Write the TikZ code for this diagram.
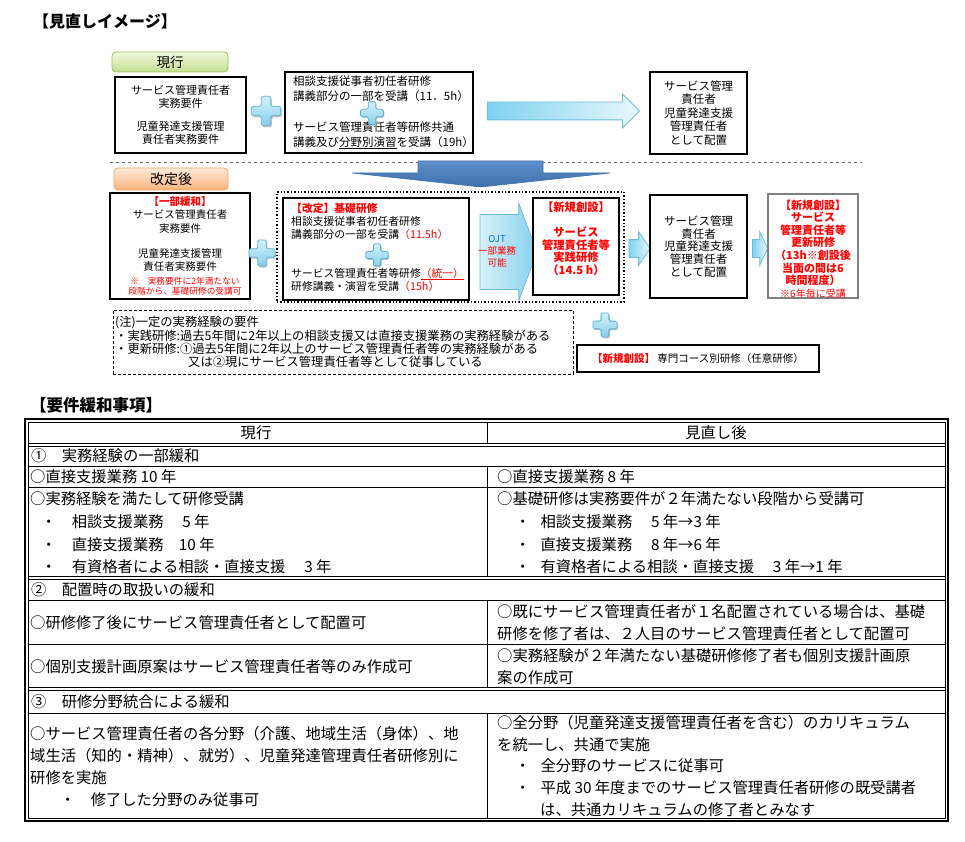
\documentclass[tikz,border=0pt]{standalone}
\usepackage{fontspec}
\setmainfont{Noto Sans CJK JP}
\usetikzlibrary{shapes.arrows,positioning,calc}

\definecolor{jred}{HTML}{FF0000}
\definecolor{ojtblue}{HTML}{0070C0}
\definecolor{plustop}{HTML}{D4F2FB}
\definecolor{plusbot}{HTML}{86CFE9}
\definecolor{plusedge}{HTML}{5AAFCF}
\definecolor{greentop}{HTML}{F2F9E1}
\definecolor{greenbot}{HTML}{C2DF8E}
\definecolor{greenedge}{HTML}{9BBB59}
\definecolor{orangetop}{HTML}{FEEBDD}
\definecolor{orangebot}{HTML}{F9B37A}
\definecolor{orangeedge}{HTML}{F0A060}
\definecolor{arrowdark}{HTML}{7ED2EF}
\definecolor{arrowlight}{HTML}{E8F8FD}
\definecolor{arrowedge}{HTML}{6CBFDB}
\definecolor{ojtlight}{HTML}{D6F1FA}
\definecolor{ojtdark}{HTML}{86D0EB}
\definecolor{downtop}{HTML}{5D8FCB}
\definecolor{downbot}{HTML}{3F70AC}

\newcommand\sz[2]{\fontsize{#1pt}{#2pt}\selectfont}
\newcommand\rd[1]{\textcolor{jred}{#1}}

\tikzset{
  box/.style={draw, line width=1.3, fill=white, inner sep=0pt, align=center},
  headbox/.style={draw, rounded corners=4pt, line width=0.8, inner sep=0pt, font=\sz{13.5}{16}},
  txt/.style={inner sep=0pt, align=center},
  ltxt/.style={inner sep=0pt, align=left, anchor=west},
  cell/.style={inner sep=0pt, align=left, anchor=west, font=\sz{15.3}{22}},
  blockarrow/.style={single arrow, draw=arrowedge, line width=0.8, inner sep=0pt,
    left color=arrowdark, right color=arrowlight},
  rule/.style={line width=0.8},
  plusmark/.pic={
    \fill[black!22, shift={(1.2,1.6)}, rounded corners=1.5pt]
      (-4.5,-14) -- (4.5,-14) -- (4.5,-4.5) -- (14,-4.5) -- (14,4.5) -- (4.5,4.5)
      -- (4.5,14) -- (-4.5,14) -- (-4.5,4.5) -- (-14,4.5) -- (-14,-4.5) -- (-4.5,-4.5) -- cycle;
    \draw[plusedge, line width=0.8, top color=plustop, bottom color=plusbot, rounded corners=1.5pt]
      (-4.5,-14) -- (4.5,-14) -- (4.5,-4.5) -- (14,-4.5) -- (14,4.5) -- (4.5,4.5)
      -- (4.5,14) -- (-4.5,14) -- (-4.5,4.5) -- (-14,4.5) -- (-14,-4.5) -- (-4.5,-4.5) -- cycle;
  }
}

\begin{document}
\begin{tikzpicture}[x=1pt, y=-1pt]
\useasboundingbox (0,0) rectangle (965,842);

% title
\node[ltxt, font=\bfseries\sz{16}{18}] (title) at (33,21) {【見直しイメージ】};

% current scheme
\node[headbox, draw=greenedge, top color=greentop, bottom color=greenbot,
  minimum width=116, minimum height=20] (oldhead) at (170,62) {現行};
\node[box, minimum width=131, minimum height=76, font=\sz{11}{13}] (reqold) at (180.5,115)
  {サービス管理責任者\\実務要件\\[10pt]児童発達支援管理\\責任者実務要件};
\pic[scale=1.05] at (266,111) {plusmark};
\node[box, minimum width=188, minimum height=81] (trainold) at (379,112.5) {};
\node[ltxt, font=\sz{11.5}{14.5}] (trainoldtxt) at (293,112.5)
  {相談支援従事者初任者研修\\講義部分の一部を受講（11．5h）\\[17pt]サービス管理責任者等研修共通\\講義及び\underline{分野別演習}を受講（19h）};
\pic[scale=0.82] at (372,113) {plusmark};
\node[blockarrow, minimum height=152, inner ysep=8.5, single arrow head extend=8] (toplaceold) at (559,111) {};
\node[box, line width=1.8, minimum width=97, minimum height=82, font=\sz{11.5}{13.5}] (placeold) at (698.5,113)
  {サービス管理\\責任者\\児童発達支援\\管理責任者\\として配置};

% divider
\draw[black!60, dashed, line width=0.9] (110,162.5) -- (862,162.5);
\draw[downbot, line width=0.6, top color=downtop, bottom color=downbot]
  (418,161) -- (543,161) -- (543,173) -- (610,173) -- (481,187) -- (352,173) -- (418,173) -- cycle;

% revised scheme
\node[headbox, draw=orangeedge, top color=orangetop, bottom color=orangebot,
  minimum width=114, minimum height=22, font=\sz{14}{16}] (newhead) at (171,179) {改定後};
\node[box, minimum width=140, minimum height=106] (reqnew) at (180,246) {};
\node[txt, font=\sz{10.5}{13.3}] (reqnewtxt) at (180,234)
  {\rd{\bfseries 【一部緩和】}\\サービス管理責任者\\実務要件\\[12pt]児童発達支援管理\\責任者実務要件};
\node[txt, font=\sz{8.7}{9.8}, text=jred] (reqnewnote) at (185,286)
  {※　実務要件に2年満たない\\段階から、基礎研修の受講可};
\pic[scale=0.93] at (262,253) {plusmark};

\node[draw, dotted, line width=1.4, minimum width=347, minimum height=110, inner sep=0pt] (basicframe) at (450.5,247) {};
\node[box, minimum width=186, minimum height=102] (basic) at (376,249) {};
\node[ltxt, font=\sz{10.8}{13}] (basictxt) at (291,247)
  {\rd{\bfseries 【改定】基礎研修}\\相談支援従事者初任者研修\\講義部分の一部を受講\rd{（11.5h）}\\[26pt]サービス管理責任者等研修\rd{\underline{（統一）}}\\研修講義・演習を受講\rd{（15h）}};
\pic[scale=0.8] at (377,255) {plusmark};

\node[blockarrow, left color=ojtlight, right color=ojtdark, minimum height=57, inner ysep=37,
  single arrow head extend=11.5, single arrow tip angle=139] (ojt) at (501.5,252) {};
\node[txt, font=\sz{9.5}{12}] (ojttxt) at (497,251) {\textcolor{ojtblue}{OJT}\\\rd{一部業務}\\\rd{可能}};

\node[box, line width=1.1, minimum width=86, minimum height=97] (practice) at (576,246.5) {};
\node[txt, font=\bfseries\sz{11.3}{12.5}, text=jred] (practicetxt) at (576,238.7)
  {【新規創設】\\[13pt]サービス\\管理責任者等\\実践研修\\（14.5 h）};

\node[blockarrow, minimum height=21, inner ysep=8.5, single arrow head extend=8,
  single arrow tip angle=112] (toplacenew) at (636.5,248.5) {};
\node[box, line width=2.4, minimum width=97, minimum height=103, font=\sz{11.5}{12.8}] (placenew) at (698.5,246.5)
  {サービス管理\\責任者\\児童発達支援\\管理責任者\\として配置};

\node[blockarrow, minimum height=15, inner ysep=8.5, single arrow head extend=8,
  single arrow tip angle=130] (torenew) at (758,248.5) {};
\node[box, draw=black!50, minimum width=90, minimum height=104] (renew) at (813,246) {};
\node[txt, font=\bfseries\sz{11}{12.6}, text=jred] (renewtxt) at (813,249)
  {【新規創設】\\サービス\\管理責任者等\\更新研修\\（13h※創設後\\当面の間は6\\時間程度）\\{\mdseries\sz{10}{12.6}※6年毎に受講}};

% note and optional course
\node[draw, dashed, dash pattern=on 3pt off 2pt, line width=0.9, minimum width=460, minimum height=64, inner sep=0pt] (note) at (343,342) {};
\node[ltxt, font=\sz{12.3}{12.8}] (notetxt) at (115,342)
  {(注)一定の実務経験の要件\\・実践研修:過去5年間に2年以上の相談支援又は直接支援業務の実務経験がある\\・更新研修:①過去5年間に2年以上のサービス管理責任者等の実務経験がある\\\hspace*{73pt}又は②現にサービス管理責任者等として従事している};
\pic[scale=0.86] at (605,325) {plusmark};
\node[box, line width=1.1, minimum width=242, minimum height=27, font=\sz{10.5}{12}] (special) at (698,358.5)
  {\rd{\bfseries 【新規創設】} 専門コース別研修（任意研修）};

% table
\node[ltxt, font=\bfseries\sz{16.5}{18}] (tabletitle) at (30,405) {【要件緩和事項】};

\draw[line width=1.1] (25,419) rectangle (948,821);
\draw[rule] (28,422) rectangle (945,818);
\draw[rule] (28,443.5) -- (945,443.5) (28,446.5) -- (945,446.5);
\foreach \y in {466,487,600,644,713}
  \draw[rule] (28,\y) -- (945,\y);
\draw[rule] (28,576.5) -- (945,576.5) (28,579.5) -- (945,579.5);
\draw[line width=1.2] (28,687.5) -- (945,687.5) (28,690.5) -- (945,690.5);
\draw[rule] (487,422) -- (487,443.5) (487,466) -- (487,576.5) (487,600) -- (487,687.5) (487,713) -- (487,818);

\node[txt, font=\sz{15.3}{20}] (headold) at (256,433) {現行};
\node[txt, font=\sz{15.3}{20}] (headnew) at (716,433) {見直し後};

\node[cell] (sec1) at (31,456) {①　実務経験の一部緩和};
\node[cell] (old1) at (30,477) {○直接支援業務 10 年};
\node[cell] (new1) at (497,477) {○直接支援業務 8 年};
\node[cell, font=\sz{15.3}{22.7}] (old2) at (30,533)
  {○実務経験を満たして研修受講\\\hspace*{11pt}・　相談支援業務　 5 年\\\hspace*{11pt}・　直接支援業務　10 年\\\hspace*{11pt}・　有資格者による相談・直接支援　 3 年};
\node[cell, font=\sz{15.3}{22.7}] (new2) at (497,533)
  {○基礎研修は実務要件が２年満たない段階から受講可\\\hspace*{18pt}・\hspace*{10pt}相談支援業務　 5 年→3 年\\\hspace*{18pt}・\hspace*{10pt}直接支援業務　 8 年→6 年\\\hspace*{18pt}・\hspace*{10pt}有資格者による相談・直接支援　 3 年→1 年};

\node[cell] (sec2) at (31,590) {②　配置時の取扱いの緩和};
\node[cell] (old3) at (30,623) {○研修修了後にサービス管理責任者として配置可};
\node[cell] (new3) at (497,623)
  {○既にサービス管理責任者が１名配置されている場合は、基礎\\研修を修了者は、２人目のサービス管理責任者として配置可};
\node[cell] (old4) at (30,667) {○個別支援計画原案はサービス管理責任者等のみ作成可};
\node[cell] (new4) at (497,667)
  {○実務経験が２年満たない基礎研修修了者も個別支援計画原\\案の作成可};

\node[cell] (sec3) at (31,702) {③　研修分野統合による緩和};
\node[cell] (old5) at (30,767)
  {○サービス管理責任者の各分野（介護、地域生活（身体）、地\\域生活（知的・精神）、就労）、児童発達管理責任者研修別に\\研修を実施\\\hspace*{30pt}・　修了した分野のみ従事可};
\node[cell, font=\sz{15.3}{21.8}] (new5) at (497,766)
  {○全分野（児童発達支援管理責任者を含む）のカリキュラム\\を統一し、共通で実施\\\hspace*{18pt}・\hspace*{10pt}全分野のサービスに従事可\\\hspace*{18pt}・\hspace*{10pt}平成 30 年度までのサービス管理責任者研修の既受講者\\\hspace*{43pt}は、共通カリキュラムの修了者とみなす};
\end{tikzpicture}
\end{document}
